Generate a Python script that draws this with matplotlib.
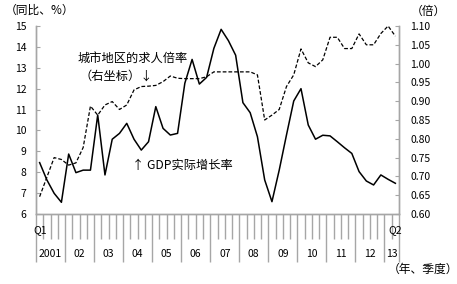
import matplotlib
matplotlib.use("Agg")
import matplotlib.pyplot as plt
import matplotlib.transforms as mtransforms

plt.rcParams['font.family'] = ['Noto Sans CJK SC', 'DejaVu Sans']

gdp = [8.46, 7.63, 6.99, 6.56, 8.87, 7.98, 8.1, 8.1, 10.74, 7.87,
       9.58, 9.86, 10.34, 9.58, 9.06, 9.46, 11.14, 10.1, 9.78, 9.86,
       12.26, 13.4, 12.22, 12.54, 13.93, 14.84, 14.3, 13.6, 11.33, 10.85,
       9.7, 7.63, 6.59, 8.1, 9.78, 11.41, 12.0, 10.26, 9.58, 9.77,
       9.74, 9.46, 9.17, 8.9, 8.03, 7.58, 7.39, 7.87, 7.66, 7.47]
ratio = [0.646, 0.698, 0.75, 0.745, 0.73, 0.736, 0.777, 0.887, 0.863, 0.89,
         0.899, 0.878, 0.89, 0.93, 0.939, 0.94, 0.942, 0.952, 0.967, 0.961,
         0.96, 0.96, 0.96, 0.965, 0.978, 0.978, 0.978, 0.978, 0.978, 0.978,
         0.97, 0.85, 0.863, 0.878, 0.939, 0.97, 1.039, 1.002, 0.992, 1.01,
         1.07, 1.07, 1.04, 1.04, 1.079, 1.05, 1.05, 1.08, 1.10, 1.073]
years = ['2001', '02', '03', '04', '05', '06', '07', '08', '09', '10', '11', '12', '13']
left_ticks = [6, 7, 8, 9, 10, 11, 12, 13, 14, 15]
right_ticks = [0.60, 0.65, 0.70, 0.75, 0.80, 0.85, 0.90, 0.95, 1.00, 1.05, 1.10]

W, H = 457, 284
fig = plt.figure(figsize=(W / 100, H / 100), dpi=100)
ax = fig.add_axes([36 / W, 1 - 214 / H, (399 - 36) / W, (214 - 26) / H])
ax2 = ax.twinx()

n = len(gdp)
x = list(range(n))
ax.plot(x, gdp, color='black', lw=1.1, zorder=3)
ax2.plot(x, ratio, color='black', lw=0.9, ls=(0, (3, 1.6)), zorder=3)

ax.set_xlim(-0.5, n - 0.5)
ax.set_ylim(6, 15)
ax2.set_ylim(0.60, 1.10)
ax.set_yticks(left_ticks)
ax.set_yticklabels([str(v) for v in left_ticks])
ax2.set_yticks(right_ticks)
ax2.set_yticklabels([f"{v:.2f}" for v in right_ticks])

gray = '#a6a6a6'
for a in (ax, ax2):
    a.spines['top'].set_visible(False)
    for s in ('left', 'right', 'bottom'):
        a.spines[s].set_color(gray)
        a.spines[s].set_linewidth(1.0)
ax.tick_params(axis='y', direction='in', length=3, color=gray, labelsize=7.5, pad=7)
ax2.tick_params(axis='y', direction='in', length=3, color=gray, labelsize=7.5, pad=8)

# category ticks
major = [k - 0.5 for k in range(0, n, 4)] + [n - 0.5]
minor = [k - 0.5 for k in range(n + 1) if (k % 4) != 0 and k != n]
ax.set_xticks(major)
ax.set_xticks(minor, minor=True)
ax.set_xticklabels([])
ax.tick_params(axis='x', which='major', direction='out', length=34.5, width=1.0, color=gray)
ax.tick_params(axis='x', which='minor', direction='out', length=18, width=1.0, color=gray)

trans = mtransforms.blended_transform_factory(ax.transData, ax.transAxes)
for i, y in enumerate(years):
    start = i * 4
    end = min(start + 4, n)
    cx = (start + end - 1) / 2
    ax.text(cx, -0.213, y, transform=trans, ha='center', va='center', fontsize=7.5)
ax.text(0, -0.085, 'Q1', transform=trans, ha='center', va='center', fontsize=7.5)
ax.text(n - 1, -0.085, 'Q2', transform=trans, ha='center', va='center', fontsize=7.5)

fig.text(5 / W, 1 - 10 / H, '（同比、%）', ha='left', va='center', fontsize=8.5)
fig.text(411 / W, 1 - 11 / H, '（倍）', ha='left', va='center', fontsize=8.5)
fig.text(458 / W, 1 - 269 / H, '（年、季度）', ha='right', va='center', fontsize=8.5)
fig.text(78 / W, 1 - 58 / H, '城市地区的求人倍率', ha='left', va='center', fontsize=8.8)
fig.text(80 / W, 1 - 76 / H, '（右坐标）↓', ha='left', va='center', fontsize=8.8)
fig.text(132 / W, 1 - 165 / H, '↑ GDP实际增长率', ha='left', va='center', fontsize=8.8)

fig.savefig('out.png', dpi=100)
